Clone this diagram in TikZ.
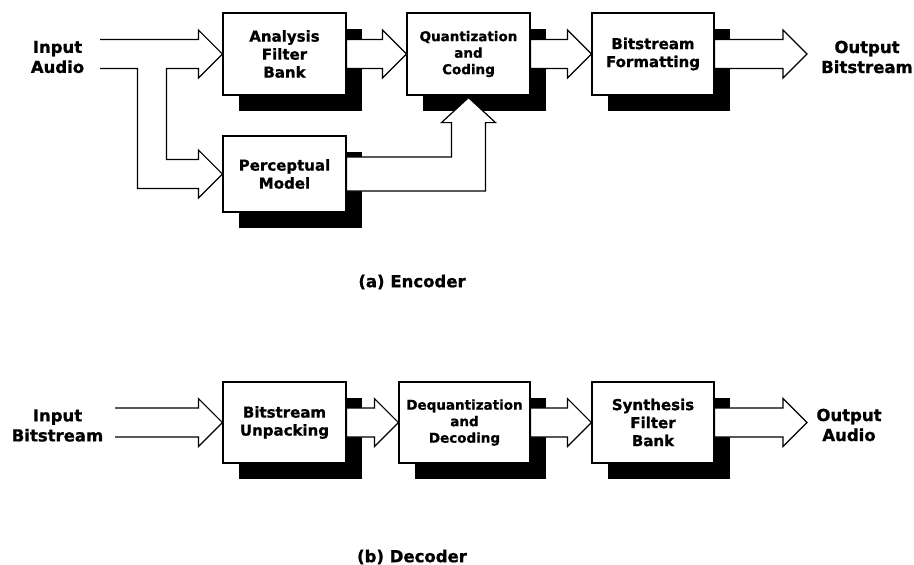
\documentclass[tikz,border=0pt]{standalone}
\usepackage{fontspec}
\setmainfont{DejaVu Sans}[BoldFeatures={FakeBold=1}]
\usetikzlibrary{calc,shadows}

% hollow arrow from a box edge to a tip
\newcommand{\pipearrow}[2]{%
  \draw[pipe] ($(#1)+(0,-14.5)$) -- ($(#2)+(-24,-14.5)$) -- ++(0,-9.5) -- (#2)
    -- ($(#2)+(-24,24)$) -- ++(0,-9.5) -- ($(#1)+(0,14.5)$) -- cycle;}

\begin{document}
\begin{tikzpicture}[x=1pt,y=-1pt,
  unit/.style={draw,fill=white,line width=1.2pt,minimum width=123pt,minimum height=82pt,
    inner sep=0pt,align=center,font=\fontsize{15}{18}\selectfont\bfseries,
    drop shadow={shadow xshift=16pt,shadow yshift=-16pt,fill=black,opacity=1}},
  small/.style={font=\fontsize{13.5}{16.5}\selectfont\bfseries},
  lbl/.style={align=center,inner sep=0pt,font=\fontsize{16.5}{20}\selectfont\bfseries},
  pipe/.style={draw,fill=white,line width=1.2pt,line join=miter}
]
  \useasboundingbox (0,0) rectangle (914,565);
  % Encoder
  \node[unit] (ana) at (284.5,54) {Analysis\\Filter\\Bank};
  \node[unit,small] (quant) at (468.5,54) {Quantization\\and\\Coding};
  \node[unit,minimum width=122pt] (bf) at (653,54) {Bitstream\\Formatting};
  \node[unit,minimum height=76pt] (perc) at (284.5,174) {Perceptual\\Model};
  \node[lbl] (ain) at (57.5,57) {Input\\Audio};
  \node[lbl] (bout) at (867,57) {Output\\Bitstream};
  \node[lbl] (enc) at (412,282) {(a) Encoder};
  \coordinate (ainend) at (100,54);
  \coordinate (bouttip) at (807,54);
  % input split into filter bank and model
  \draw[pipe,fill=none] ($(ainend)+(0,-14.5)$) -- ($(ana.west)+(-24,-14.5)$) -- ++(0,-9.5) -- (ana.west)
    -- ($(ana.west)+(-24,24)$) -- ++(0,-9.5) -- ($(ana.west)+(-56,14.5)$)
    -- ($(perc.west)+(-56,-14.5)$) -- ($(perc.west)+(-24,-14.5)$) -- ++(0,-9.5) -- (perc.west)
    -- ($(perc.west)+(-24,24)$) -- ++(0,-9.5) -- ($(perc.west)+(-85,14.5)$)
    -- ($(ana.west)+(-85,14.5)$) -- ($(ainend)+(0,14.5)$);
  \pipearrow{ana.east}{quant.west}
  \pipearrow{quant.east}{bf.west}
  \pipearrow{bf.east}{bouttip}
  % model up into quantizer
  \draw[pipe] ($(perc.east)+(0,-17)$) -| ($(quant.south)+(-17,27)$) -- ++(-10,0)
    -- ($(quant.south)+(0,2)$) -- ++(27,25) -- ++(-10,0) |- ($(perc.east)+(0,17)$) -- cycle;
  % Decoder
  \node[unit,minimum height=81pt] (unp) at (284.5,422.5) {Bitstream\\Unpacking};
  \node[unit,small,minimum width=131pt,minimum height=81pt] (deq) at (464.5,422.5) {Dequantization\\and\\Decoding};
  \node[unit,minimum width=122pt,minimum height=81pt] (syn) at (653,422.5) {Synthesis\\Filter\\Bank};
  \node[lbl] (bin) at (57.5,425.5) {Input\\Bitstream};
  \node[lbl] (aout) at (849,425) {Output\\Audio};
  \node[lbl] (dec) at (412,557) {(b) Decoder};
  \coordinate (binend) at (115,422.5);
  \coordinate (aouttip) at (807,422.5);
  \draw[pipe,fill=none] ($(binend)+(0,-14.5)$) -- ($(unp.west)+(-24,-14.5)$) -- ++(0,-9.5) -- (unp.west)
    -- ($(unp.west)+(-24,24)$) -- ++(0,-9.5) -- ($(binend)+(0,14.5)$);
  \pipearrow{unp.east}{deq.west}
  \pipearrow{deq.east}{syn.west}
  \pipearrow{syn.east}{aouttip}
\end{tikzpicture}
\end{document}
